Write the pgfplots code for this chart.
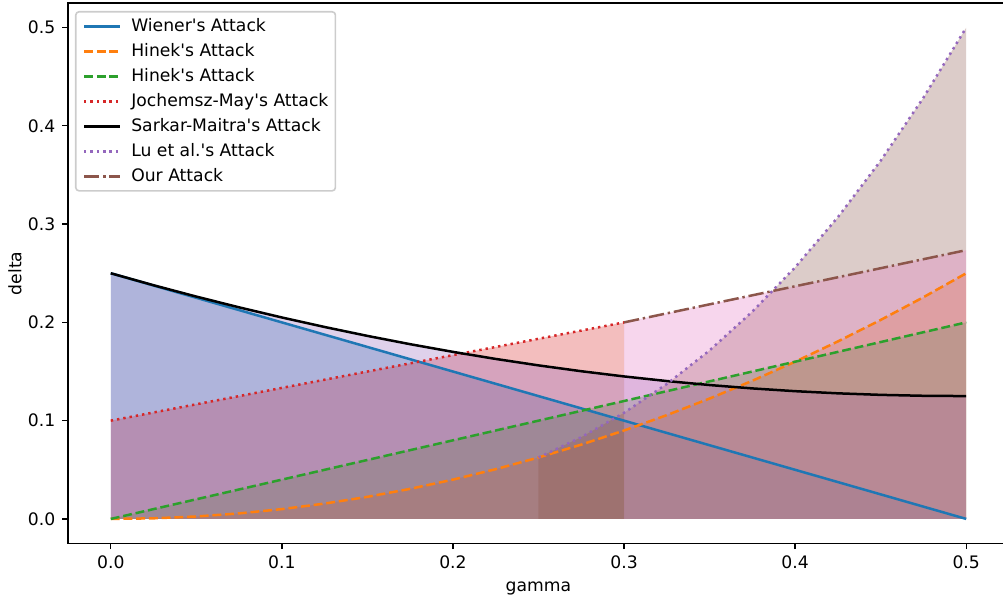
\documentclass[border=0pt]{standalone}
\usepackage{fontspec}
\setmainfont{DejaVu Sans}[Ligatures=TeXOff]
\usepackage{pgfplots}
\usepackage{pgfplotstable}
\pgfplotsset{compat=1.18}

\definecolor{tabblue}{RGB}{31,119,180}
\definecolor{taborange}{RGB}{255,127,14}
\definecolor{tabgreen}{RGB}{44,160,44}
\definecolor{tabred}{RGB}{214,39,40}
\definecolor{tabpurple}{RGB}{148,103,189}
\definecolor{tabbrown}{RGB}{140,86,75}
\definecolor{tabpink}{RGB}{227,119,194}
\definecolor{leggray}{RGB}{204,204,204}

\tikzset{
  mpldashed/.style={dash pattern=on 4.44pt off 1.92pt},
  mpldotted/.style={dash pattern=on 1.2pt off 1.98pt},
  mpldashdot/.style={dash pattern=on 7.68pt off 1.92pt on 1.2pt off 1.92pt},
}
\pgfplotsset{
  area/.style={draw=none, fill=#1, fill opacity=0.3, forget plot},
  curve/.style={#1, line width=1.25pt},
}

% Wiener
\pgfplotstableread{
x y
0 0.25
0.5 0
}\wiener
% Hinek (gamma^2)
\pgfplotstableread{
x y
0 0
0.025 0.000625
0.05 0.0025
0.075 0.005625
0.1 0.01
0.125 0.015625
0.15 0.0225
0.175 0.030625
0.2 0.04
0.225 0.050625
0.25 0.0625
0.275 0.075625
0.3 0.09
0.325 0.105625
0.35 0.1225
0.375 0.140625
0.4 0.16
0.425 0.180625
0.45 0.2025
0.475 0.225625
0.5 0.25
}\hinekA
% Hinek (linear)
\pgfplotstableread{
x y
0 0
0.5 0.2
}\hinekB
% Jochemsz-May
\pgfplotstableread{
x y
0 0.1
0.3 0.2
}\jm
% Sarkar-Maitra
\pgfplotstableread{
x y
0 0.25
0.025 0.23781
0.05 0.22625
0.075 0.21531
0.1 0.205
0.125 0.19531
0.15 0.18625
0.175 0.17781
0.2 0.17
0.225 0.16281
0.25 0.15625
0.275 0.15031
0.3 0.145
0.325 0.14031
0.35 0.13625
0.375 0.13281
0.4 0.13
0.425 0.12781
0.45 0.12625
0.475 0.12531
0.5 0.125
}\sm
% Lu et al.
\pgfplotstableread{
x y
0.25 0.0625
0.275 0.083188
0.3 0.108
0.325 0.137313
0.35 0.1715
0.375 0.210938
0.4 0.256
0.425 0.307063
0.45 0.3645
0.475 0.428688
0.5 0.5
}\lu
% Our attack
\pgfplotstableread{
x y
0.3 0.2
0.5 0.2735
}\ours

\begin{document}
\begin{tikzpicture}[font=\fontsize{8.6pt}{10.3pt}\selectfont]
\begin{axis}[
  scale only axis,
  width=470.5pt, height=270.25pt,
  xmin=-0.025, xmax=0.525,
  ymin=-0.025, ymax=0.525,
  xtick={0,0.1,0.2,0.3,0.4,0.5},
  ytick={0,0.1,0.2,0.3,0.4,0.5},
  scaled ticks=false,
  tick align=outside,
  tick pos=left,
  major tick length=2.8pt,
  every tick/.style={black, line width=0.64pt},
  axis line style={line width=0.64pt},
  /pgf/number format/assume math mode=true,
  xticklabel style={/pgf/number format/fixed, /pgf/number format/fixed zerofill, /pgf/number format/precision=1},
  yticklabel style={/pgf/number format/fixed, /pgf/number format/fixed zerofill, /pgf/number format/precision=1},
  xlabel={gamma},
  ylabel={delta},
  xlabel style={at={(axis description cs:0.5,-0.083)}, anchor=center},
  ylabel style={at={(axis description cs:-0.0563,0.5)}, anchor=center},
  legend cell align=left,
  legend image code/.code={\draw[#1] (0pt,0pt) -- (18pt,0pt);},
  legend style={
    at={(axis description cs:0,1)}, anchor=north west,
    xshift=3.5pt, yshift=-4pt,
    draw=leggray, line width=0.8pt, rounded corners=1.6pt,
    fill=white, fill opacity=0.8, draw opacity=1, text opacity=1,
    inner xsep=3.5pt, inner ysep=3pt,
    row sep=4pt,
    nodes={inner sep=0pt, text height=6.7pt, text depth=1.8pt},
    /tikz/every odd column/.append style={column sep=5pt},
  },
]

% shaded regions, drawn below the lines
\addplot[area=tabblue] table {\wiener} \closedcycle;
\addplot[area=taborange] table {\hinekA} \closedcycle;
\addplot[area=tabgreen] table {\hinekB} \closedcycle;
\addplot[area=tabred] table {\jm} \closedcycle;
\addplot[area=tabpurple] table {\sm} \closedcycle;
\addplot[area=tabbrown] table {\lu} \closedcycle;
\addplot[area=tabpink] table {\ours} \closedcycle;

\addplot[curve=tabblue] table {\wiener};
\addlegendentry{Wiener's Attack}
\addplot[curve=taborange, mpldashed] table {\hinekA};
\addlegendentry{Hinek's Attack}
\addplot[curve=tabgreen, mpldashed] table {\hinekB};
\addlegendentry{Hinek's Attack}
\addplot[curve=tabred, mpldotted] table {\jm};
\addlegendentry{Jochemsz-May's Attack}
\addplot[curve=black] table {\sm};
\addlegendentry{Sarkar-Maitra's Attack}
\addplot[curve=tabpurple, mpldotted] table {\lu};
\addlegendentry{Lu et al.'s Attack}
\addplot[curve=tabbrown, mpldashdot] table {\ours};
\addlegendentry{Our Attack}

\end{axis}
\pgfresetboundingbox
\useasboundingbox (-34pt,-26.25pt) rectangle (467.5pt,271.75pt);
\end{tikzpicture}
\end{document}
